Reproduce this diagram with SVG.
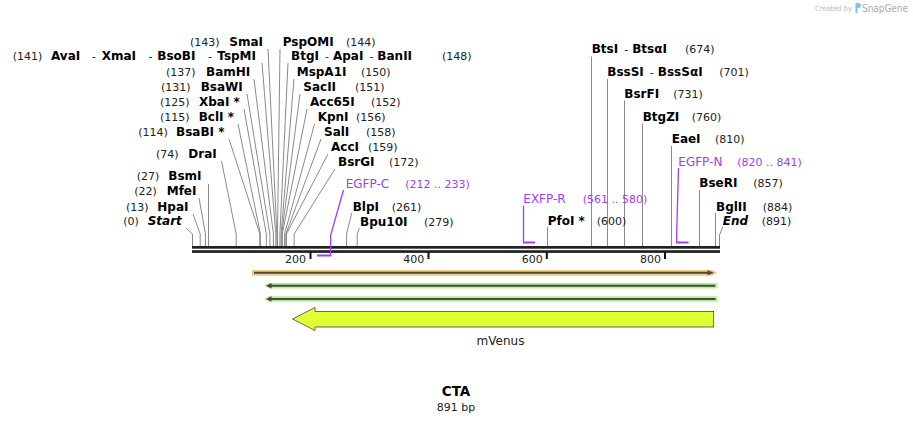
<svg xmlns="http://www.w3.org/2000/svg" width="913" height="422" viewBox="0 0 913 422">
<style>
text { font-family: "DejaVu Sans", Verdana, sans-serif; }
.n { font-size: 11px; fill: #222; font-weight: normal; font-style: normal; }
.b { font-size: 12px; font-weight: bold; fill: #000; }
.bi { font-size: 12px; font-weight: bold; font-style: italic; fill: #000; }
.pn { font-size: 12px; fill: #a23ef0; }
.pnum { font-size: 11px; fill: #a23ef0; }
.cut { stroke: #8a8a8a; stroke-width: 1; fill: none; }
.pr { stroke: #a23ef0; stroke-width: 1.3; fill: none; }
.prb { stroke: #a23ef0; stroke-width: 2; fill: none; }
.bb { fill: #222; }
.tick { stroke: #111; stroke-width: 2; }
.tl { font-size: 11px; fill: #222; }
</style>
<rect width="913" height="422" fill="#fff"/>

<g id="watermark">
<text x="815" y="11" textLength="37" lengthAdjust="spacingAndGlyphs" style="font-size:7.5px;fill:#bbb">Created by</text>
<path d="M855.5,3 h3 a2.5,2.5 0 0 1 0,5 h-1 v5 h-2 z" fill="#7fc4ef"/>
<text x="862" y="12" textLength="46" lengthAdjust="spacingAndGlyphs" style="font-size:10px;fill:#aaa">SnapGene</text>
</g>

<g id="backbone">
<rect class="bb" x="192" y="246" width="528" height="2.7"/>
<rect class="bb" x="192" y="250.2" width="528" height="2.7"/>
<line class="tick" x1="310.5" y1="252" x2="310.5" y2="259"/>
<line class="tick" x1="428.5" y1="252" x2="428.5" y2="259"/>
<line class="tick" x1="546.8" y1="252" x2="546.8" y2="259"/>
<line class="tick" x1="665" y1="252" x2="665" y2="259"/>
<text class="tl" x="306" y="263" text-anchor="end">200</text>
<text class="tl" x="424.3" y="263" text-anchor="end">400</text>
<text class="tl" x="542.7" y="263" text-anchor="end">600</text>
<text class="tl" x="661" y="263" text-anchor="end">800</text>
</g>

<g id="connectors">
<polyline class="cut" points="268,49 276.9,234 276.9,246"/>
<polyline class="cut" points="262,63 275.8,234 275.8,246"/>
<polyline class="cut" points="254,79 273.4,234 273.4,246"/>
<polyline class="cut" points="247,94 269.9,234 269.9,246"/>
<polyline class="cut" points="244,109 266.3,234 266.3,246"/>
<polyline class="cut" points="238,124 260.4,234 260.4,246"/>
<polyline class="cut" points="229,139 259.8,234 259.8,246"/>
<polyline class="cut" points="221.5,161 236.2,234 236.2,246"/>
<polyline class="cut" points="208.5,184 208.5,246"/>
<polyline class="cut" points="199,198 205.5,234 205.5,246"/>
<polyline class="cut" points="193,214 200.2,234 200.2,246"/>
<polyline class="cut" points="186,228 192.5,234 192.5,246"/>

<polyline class="cut" points="280,49 277.5,234 277.5,246"/>
<polyline class="cut" points="288,63 279.9,234 279.9,246"/>
<polyline class="cut" points="294,79 281.1,234 281.1,246"/>
<polyline class="cut" points="300,94 281.7,234 281.7,246"/>
<polyline class="cut" points="307,109 282.3,234 282.3,246"/>
<polyline class="cut" points="314.5,124 284.6,234 284.6,246"/>
<polyline class="cut" points="321,139 285.8,234 285.8,246"/>
<polyline class="cut" points="328,154 286.4,234 286.4,246"/>
<polyline class="cut" points="335,169 294.1,234 294.1,246"/>
<polyline class="cut" points="351.7,213 346.6,234 346.6,246"/>
<polyline class="cut" points="359.3,228 357.2,234 357.2,246"/>

<line class="cut" x1="547.5" y1="227" x2="547.5" y2="246"/>
<line class="cut" x1="591.5" y1="56.5" x2="591.5" y2="246"/>
<line class="cut" x1="607.5" y1="79" x2="607.5" y2="246"/>
<line class="cut" x1="624.5" y1="100.5" x2="624.5" y2="246"/>
<line class="cut" x1="642.5" y1="123.5" x2="642.5" y2="246"/>
<line class="cut" x1="671.5" y1="146" x2="671.5" y2="246"/>
<line class="cut" x1="699.5" y1="190" x2="699.5" y2="246"/>
<line class="cut" x1="715.5" y1="213" x2="715.5" y2="246"/>
<polyline class="cut" points="722.7,227 719.5,235 719.5,246"/>

<polyline class="pr" points="343.5,190 330.7,235 330.7,256.5"/>
<line class="prb" x1="317" y1="255.5" x2="330" y2="255.5"/>
<line class="pr" x1="523.5" y1="205.5" x2="523.5" y2="242"/>
<line class="prb" x1="523" y1="242.5" x2="535" y2="242.5"/>
<polyline class="pr" points="678.5,168 676.7,233 676.7,242"/>
<line class="prb" x1="676" y1="242.5" x2="688.5" y2="242.5"/>
</g>

<g id="site-SmaI"><text class="n" x="190" y="45.7">(143)</text><text class="b" x="229.3" y="45.7">SmaI</text></g>
<g id="site-AvaI"><text class="n" x="12.7" y="60">(141)</text><text class="b" x="51" y="60">AvaI</text><text class="n" x="92" y="60">-</text><text class="b" x="101.7" y="60">XmaI</text><text class="n" x="148.5" y="60">-</text><text class="b" x="157.3" y="60">BsoBI</text><text class="n" x="208" y="60">-</text><text class="b" x="217.3" y="60">TspMI</text></g>
<g id="site-BamHI"><text class="n" x="166" y="75.7">(137)</text><text class="b" x="206" y="75.7">BamHI</text></g>
<g id="site-BsaWI"><text class="n" x="161" y="90.7">(131)</text><text class="b" x="200.7" y="90.7">BsaWI</text></g>
<g id="site-XbaI"><text class="n" x="160" y="105.7">(125)</text><text class="b" x="199" y="105.7">XbaI *</text></g>
<g id="site-BclI"><text class="n" x="160" y="120.7">(115)</text><text class="b" x="198.7" y="120.7">BclI *</text></g>
<g id="site-BsaBI"><text class="n" x="138.3" y="135.7">(114)</text><text class="b" x="176" y="135.7">BsaBI *</text></g>
<g id="site-DraI"><text class="n" x="156" y="158.3">(74)</text><text class="b" x="188.3" y="158.3">DraI</text></g>
<g id="site-BsmI"><text class="n" x="136.7" y="180.3">(27)</text><text class="b" x="168.3" y="180.3">BsmI</text></g>
<g id="site-MfeI"><text class="n" x="134.3" y="195">(22)</text><text class="b" x="166.7" y="195">MfeI</text></g>
<g id="site-HpaI"><text class="n" x="126" y="210.7">(13)</text><text class="b" x="157.3" y="210.7">HpaI</text></g>
<g id="site-Start"><text class="n" x="123.3" y="225">(0)</text><text class="bi" x="147.7" y="225">Start</text></g>

<g id="site-PspOMI"><text class="b" x="282.7" y="45.7">PspOMI</text><text class="n" x="346" y="45.7">(144)</text></g>
<g id="site-BtgI"><text x="291" y="60"><tspan class="b">BtgI</tspan><tspan class="n" dx="6">-</tspan><tspan class="b" dx="4">ApaI</tspan><tspan class="n" dx="6">-</tspan><tspan class="b" dx="4">BanII</tspan></text><text class="n" x="442" y="60">(148)</text></g>
<g id="site-MspA1I"><text class="b" x="296.7" y="75.7">MspA1I</text><text class="n" x="361" y="75.7">(150)</text></g>
<g id="site-SacII"><text class="b" x="303.3" y="90.7">SacII</text><text class="n" x="355" y="90.7">(151)</text></g>
<g id="site-Acc65I"><text class="b" x="310" y="105.7">Acc65I</text><text class="n" x="371" y="105.7">(152)</text></g>
<g id="site-KpnI"><text class="b" x="317.7" y="120.7">KpnI</text><text class="n" x="356" y="120.7">(156)</text></g>
<g id="site-SalI"><text class="b" x="324" y="135.7">SalI</text><text class="n" x="366" y="135.7">(158)</text></g>
<g id="site-AccI"><text class="b" x="331" y="150.7">AccI</text><text class="n" x="368" y="150.7">(159)</text></g>
<g id="site-BsrGI"><text class="b" x="338" y="165.7">BsrGI</text><text class="n" x="389" y="165.7">(172)</text></g>
<g id="primer-EGFP-C"><text class="pn" x="345.7" y="188">EGFP-C</text><text class="pnum" x="405.3" y="188">(212 .. 233)</text></g>
<g id="site-BlpI"><text class="b" x="352.7" y="210.7">BlpI</text><text class="n" x="391.7" y="210.7">(261)</text></g>
<g id="site-Bpu10I"><text class="b" x="360" y="225.7">Bpu10I</text><text class="n" x="424" y="225.7">(279)</text></g>

<g id="primer-EXFP-R"><text class="pn" x="523.3" y="202.7">EXFP-R</text><text class="pnum" x="582.7" y="202.7">(561 .. 580)</text></g>
<g id="site-PfoI"><text class="b" x="547.7" y="225">PfoI *</text><text class="n" x="596.7" y="225">(600)</text></g>
<g id="site-BtsI"><text x="591.7" y="52.7"><tspan class="b">BtsI</tspan><tspan class="n" dx="6">-</tspan><tspan class="b" dx="4">BtsαI</tspan></text><text class="n" x="685" y="52.7">(674)</text></g>
<g id="site-BssSI"><text x="607.3" y="75.7"><tspan class="b">BssSI</tspan><tspan class="n" dx="6">-</tspan><tspan class="b" dx="4">BssSαI</tspan></text><text class="n" x="719.3" y="75.7">(701)</text></g>
<g id="site-BsrFI"><text class="b" x="624.3" y="98">BsrFI</text><text class="n" x="673.3" y="98">(731)</text></g>
<g id="site-BtgZI"><text class="b" x="642.7" y="121">BtgZI</text><text class="n" x="691.7" y="121">(760)</text></g>
<g id="site-EaeI"><text class="b" x="671.7" y="143.3">EaeI</text><text class="n" x="715" y="143.3">(810)</text></g>
<g id="primer-EGFP-N"><text class="pn" x="678.3" y="166">EGFP-N</text><text class="pnum" x="737.3" y="166">(820 .. 841)</text></g>
<g id="site-BseRI"><text class="b" x="699.3" y="187.3">BseRI</text><text class="n" x="753.3" y="187.3">(857)</text></g>
<g id="site-BglII"><text class="b" x="716" y="210.7">BglII</text><text class="n" x="762.7" y="210.7">(884)</text></g>
<g id="site-End"><text class="bi" x="722.7" y="225">End</text><text class="n" x="761.7" y="225">(891)</text></g>

<g id="feature-orange">
<polygon points="252,270 712,270 717,272.8 712,275.7 252,275.7" fill="#f8c87c"/>
<line x1="254" y1="272.8" x2="710" y2="272.8" stroke="#474747" stroke-width="2"/>
<polygon points="707.5,270.3 714,272.8 707.5,275.3" fill="#474747"/>
</g>
<g id="feature-green1">
<polygon points="264,285.7 270,282.3 270,282.9 717.3,282.9 717.3,288.5 270,288.5 270,289.1" fill="#b9f191"/>
<line x1="270" y1="285.7" x2="715.3" y2="285.7" stroke="#474747" stroke-width="2"/>
<polygon points="266,285.7 271.5,283 271.5,288.4" fill="#474747"/>
</g>
<g id="feature-green2">
<polygon points="264,299 270,295.6 270,296.2 717.7,296.2 717.7,301.8 270,301.8 270,302.4" fill="#b9f191"/>
<line x1="270" y1="299" x2="715.5" y2="299" stroke="#474747" stroke-width="2"/>
<polygon points="266,299 271.5,296.3 271.5,301.7" fill="#474747"/>
</g>
<g id="feature-mVenus">
<path d="M714,311.5 H315 V307.5 L292.5,319 L315,330.5 V327 H714" fill="#e1ff33" stroke="#666" stroke-width="1"/>
<line x1="713.5" y1="311.5" x2="713.5" y2="327" stroke="#000" stroke-width="1" stroke-dasharray="1,1"/>
<text x="500.5" y="345" text-anchor="middle" style="font-size:12px;fill:#222">mVenus</text>
</g>

<g id="title">
<text x="456" y="396" text-anchor="middle" style="font-size:13.5px;font-weight:bold;fill:#000">CTA</text>
<text x="456" y="411" text-anchor="middle" style="font-size:11px;fill:#222">891 bp</text>
</g>
</svg>
